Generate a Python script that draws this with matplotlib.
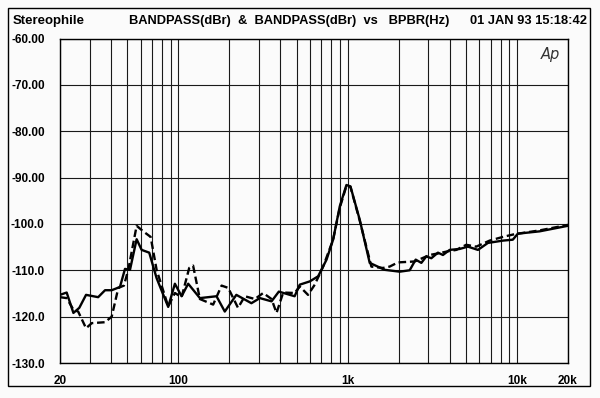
import matplotlib
matplotlib.use("Agg")
import matplotlib.pyplot as plt
from matplotlib.patches import Rectangle

plt.rcParams['font.family'] = ['Liberation Sans', 'DejaVu Sans']

# Solid trace
solid_freq = [20, 21.9, 24, 26, 28.5, 33.6, 36.9, 40.4, 45.2, 48.4, 51.8, 56.7, 60.7,
              67.3, 74.4, 87.1, 95.4, 104.5, 114.3, 134, 168, 188, 220, 270, 303, 355,
              392, 486, 521, 597, 669, 750, 820, 898, 983, 1038, 1178, 1349, 1653, 2028,
              2323, 2520, 2723, 2913, 3118, 3412, 3652, 4000, 4582, 5126, 5877, 6731,
              8247, 9441, 10112, 13587, 20000]
solid_db = [-115.3, -114.8, -119.2, -118.1, -115.3, -115.8, -114.3, -114.3, -113.6,
            -109.7, -109.9, -103.3, -105.6, -106.2, -111.7, -117.9, -112.9, -115.6,
            -112.9, -116.0, -115.6, -118.9, -115.3, -117.1, -116.0, -116.7, -114.6,
            -115.6, -113.1, -112.4, -111.3, -107.7, -103.4, -96.2, -91.6, -91.9, -99.1,
            -108.4, -109.9, -110.3, -110.0, -107.7, -108.4, -107.0, -107.4, -106.2,
            -106.7, -105.6, -105.4, -104.9, -105.6, -104.1, -103.6, -103.4, -102.1,
            -101.6, -100.4]

# Dashed trace
dashed_freq = [20, 21.9, 24, 25.6, 28.5, 30.8, 36.9, 40.4, 44.2, 47.7, 50.6, 56.7, 62,
               68.6, 74.4, 87.1, 95.4, 104.5, 115.9, 122.2, 134, 160.5, 180, 197, 225,
               247, 283, 317, 355, 380, 416, 486, 521, 583, 639, 716, 820, 898, 983,
               1038, 1178, 1380, 1616, 1770, 1981, 2485, 3048, 3491, 3909, 4377, 5015,
               5743, 6888, 8247, 9441, 10112, 13587, 20000]
dashed_db = [-115.8, -116.0, -118.5, -118.9, -122.5, -121.4, -121.2, -120.0, -113.8,
             -113.3, -109.9, -100.4, -101.6, -102.8, -109.9, -117.8, -114.9, -115.8,
             -109.5, -109.0, -116.2, -117.4, -113.3, -113.8, -118.1, -115.6, -116.2,
             -114.9, -116.2, -119.2, -114.8, -114.9, -113.5, -115.3, -113.1, -109.2,
             -103.4, -96.5, -91.8, -92.0, -99.3, -109.2, -109.5, -109.2, -108.3,
             -108.1, -106.7, -106.3, -105.9, -105.6, -104.5, -104.9, -103.6, -102.8,
             -102.3, -102.1, -101.4, -100.2]

y_ticks = [-60, -70, -80, -90, -100, -110, -120, -130]
y_labels = ["-60.00", "-70.00", "-80.00", "-90.00", "-100.0", "-110.0", "-120.0", "-130.0"]
x_major = [20, 100, 1000, 10000, 20000]
x_labels = ["20", "100", "1k", "10k", "20k"]
x_minor = [30, 40, 50, 60, 70, 80, 90, 200, 300, 400, 500, 600, 700, 800, 900,
           2000, 3000, 4000, 5000, 6000, 7000, 8000, 9000]

fig = plt.figure(figsize=(6.0, 3.98), dpi=100)
fig.patch.set_facecolor('#fbfbfb')
ax = fig.add_axes([60/600, 35/398, 508/600, 324.5/398])
ax.set_facecolor('#fbfbfb')

ax.plot(solid_freq, solid_db, color='black', lw=1.7, zorder=3)
ax.plot(dashed_freq, dashed_db, color='black', lw=1.7, ls=(0, (3.2, 1.6)), zorder=3)

ax.set_xscale('log')
ax.set_xlim(20, 20000)
ax.set_ylim(-130, -60)
ax.set_xticks(x_major)
ax.set_xticklabels(x_labels)
ax.set_xticks(x_minor, minor=True)
ax.xaxis.set_minor_formatter(matplotlib.ticker.NullFormatter())
ax.set_yticks(y_ticks)
ax.set_yticklabels(y_labels)
ax.tick_params(which='both', length=0)
ax.tick_params(axis='x', pad=9)
ax.tick_params(axis='y', pad=11)
for lab in ax.get_xticklabels() + ax.get_yticklabels():
    lab.set_fontweight('bold')
    lab.set_fontsize(8.5)
ax.grid(True, which='both', axis='x', color='#1a1a1a', lw=0.8)
ax.grid(True, which='major', axis='y', color='#1a1a1a', lw=0.8)
for s in ax.spines.values():
    s.set_color('black')
    s.set_linewidth(1.0)

title_y = 1 - 21/398
fig.text(13/600, title_y, "Stereophile", fontsize=9.5, fontweight='bold', va='center', ha='left')
fig.text(129/600, title_y, "BANDPASS(dBr)  &  BANDPASS(dBr)  vs   BPBR(Hz)", fontsize=9.3,
         fontweight='bold', va='center', ha='left')
fig.text(587/600, title_y, "01 JAN 93 15:18:42", fontsize=9.3, fontweight='bold',
         va='center', ha='right')
ax.text(0.985, 0.975, "Ap", transform=ax.transAxes, fontsize=10.5, fontstyle='italic',
        color='#333333', ha='right', va='top', family='DejaVu Sans')

fig.patches.append(Rectangle((8/600, 12/398), 582/600, 378/398, transform=fig.transFigure,
                             fill=False, edgecolor='black', lw=1.0))

fig.savefig('out.png', dpi=100, facecolor=fig.get_facecolor())
